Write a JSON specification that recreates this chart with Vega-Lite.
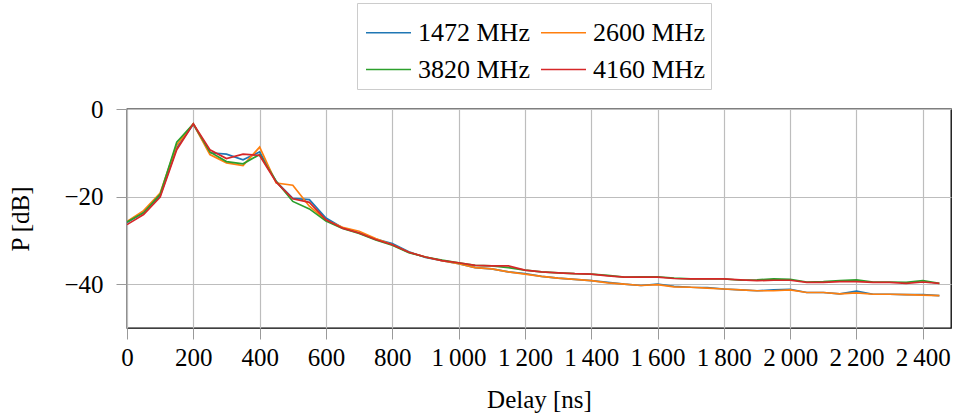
{
  "$schema": "https://vega.github.io/schema/vega-lite/v6.json",
  "width": 824,
  "height": 219,
  "autosize": {"type": "none"},
  "padding": {"left": 127, "top": 109, "right": 8, "bottom": 92},
  "background": "white",
  "config": {
    "view": {"stroke": "#000000", "strokeWidth": 1.3},
    "font": "Liberation Serif",
    "legend": {"labelFont": "Liberation Serif", "titleFont": "Liberation Serif"},
    "axis": {
      "domain": false,
      "grid": true,
      "gridColor": "#bdbdbd",
      "gridWidth": 1.2,
      "tickColor": "#9a9a9a",
      "tickSize": 11,
      "tickWidth": 1,
      "labelFont": "Liberation Serif",
      "labelFontSize": 25,
      "labelColor": "#000000",
      "titleFont": "Liberation Serif",
      "titleFontSize": 25,
      "titleFontWeight": "normal",
      "titleColor": "#000000"
    }
  },
  "data": {
    "values": [
      {"d":0,"f":"1472 MHz","p":-25.9},{"d":0,"f":"2600 MHz","p":-25.7},{"d":0,"f":"3820 MHz","p":-25.8},{"d":0,"f":"4160 MHz","p":-26.4},
      {"d":50,"f":"1472 MHz","p":-23.6},{"d":50,"f":"2600 MHz","p":-23.2},{"d":50,"f":"3820 MHz","p":-23.7},{"d":50,"f":"4160 MHz","p":-24.1},
      {"d":100,"f":"1472 MHz","p":-19.8},{"d":100,"f":"2600 MHz","p":-19.2},{"d":100,"f":"3820 MHz","p":-19.5},{"d":100,"f":"4160 MHz","p":-20.1},
      {"d":150,"f":"1472 MHz","p":-8.9},{"d":150,"f":"2600 MHz","p":-8.2},{"d":150,"f":"3820 MHz","p":-7.6},{"d":150,"f":"4160 MHz","p":-9.3},
      {"d":200,"f":"1472 MHz","p":-3.5},{"d":200,"f":"2600 MHz","p":-3.4},{"d":200,"f":"3820 MHz","p":-3.4},{"d":200,"f":"4160 MHz","p":-3.4},
      {"d":250,"f":"1472 MHz","p":-10.0},{"d":250,"f":"2600 MHz","p":-10.4},{"d":250,"f":"3820 MHz","p":-9.8},{"d":250,"f":"4160 MHz","p":-9.3},
      {"d":300,"f":"1472 MHz","p":-10.3},{"d":300,"f":"2600 MHz","p":-12.3},{"d":300,"f":"3820 MHz","p":-12.0},{"d":300,"f":"4160 MHz","p":-11.3},
      {"d":350,"f":"1472 MHz","p":-11.6},{"d":350,"f":"2600 MHz","p":-12.9},{"d":350,"f":"3820 MHz","p":-12.5},{"d":350,"f":"4160 MHz","p":-10.3},
      {"d":400,"f":"1472 MHz","p":-9.8},{"d":400,"f":"2600 MHz","p":-8.7},{"d":400,"f":"3820 MHz","p":-10.4},{"d":400,"f":"4160 MHz","p":-10.6},
      {"d":450,"f":"1472 MHz","p":-16.6},{"d":450,"f":"2600 MHz","p":-16.9},{"d":450,"f":"3820 MHz","p":-16.5},{"d":450,"f":"4160 MHz","p":-16.7},
      {"d":500,"f":"1472 MHz","p":-20.4},{"d":500,"f":"2600 MHz","p":-17.4},{"d":500,"f":"3820 MHz","p":-21.1},{"d":500,"f":"4160 MHz","p":-20.5},
      {"d":550,"f":"1472 MHz","p":-20.7},{"d":550,"f":"2600 MHz","p":-22.2},{"d":550,"f":"3820 MHz","p":-22.8},{"d":550,"f":"4160 MHz","p":-21.3},
      {"d":600,"f":"1472 MHz","p":-24.9},{"d":600,"f":"2600 MHz","p":-25.4},{"d":600,"f":"3820 MHz","p":-25.6},{"d":600,"f":"4160 MHz","p":-25.3},
      {"d":650,"f":"1472 MHz","p":-27.1},{"d":650,"f":"2600 MHz","p":-27.0},{"d":650,"f":"3820 MHz","p":-27.3},{"d":650,"f":"4160 MHz","p":-27.2},
      {"d":700,"f":"1472 MHz","p":-28.3},{"d":700,"f":"2600 MHz","p":-27.9},{"d":700,"f":"3820 MHz","p":-28.4},{"d":700,"f":"4160 MHz","p":-28.3},
      {"d":750,"f":"1472 MHz","p":-29.7},{"d":750,"f":"2600 MHz","p":-29.6},{"d":750,"f":"3820 MHz","p":-29.9},{"d":750,"f":"4160 MHz","p":-29.8},
      {"d":800,"f":"1472 MHz","p":-30.7},{"d":800,"f":"2600 MHz","p":-31.0},{"d":800,"f":"3820 MHz","p":-31.1},{"d":800,"f":"4160 MHz","p":-31.0},
      {"d":850,"f":"1472 MHz","p":-32.6},{"d":850,"f":"2600 MHz","p":-32.7},{"d":850,"f":"3820 MHz","p":-32.8},{"d":850,"f":"4160 MHz","p":-32.7},
      {"d":900,"f":"1472 MHz","p":-33.9},{"d":900,"f":"2600 MHz","p":-33.8},{"d":900,"f":"3820 MHz","p":-33.8},{"d":900,"f":"4160 MHz","p":-33.8},
      {"d":950,"f":"1472 MHz","p":-34.6},{"d":950,"f":"2600 MHz","p":-34.6},{"d":950,"f":"3820 MHz","p":-34.5},{"d":950,"f":"4160 MHz","p":-34.6},
      {"d":1000,"f":"1472 MHz","p":-35.3},{"d":1000,"f":"2600 MHz","p":-35.3},{"d":1000,"f":"3820 MHz","p":-35.1},{"d":1000,"f":"4160 MHz","p":-35.1},
      {"d":1050,"f":"1472 MHz","p":-36.2},{"d":1050,"f":"2600 MHz","p":-36.2},{"d":1050,"f":"3820 MHz","p":-35.7},{"d":1050,"f":"4160 MHz","p":-35.7},
      {"d":1100,"f":"1472 MHz","p":-36.5},{"d":1100,"f":"2600 MHz","p":-36.5},{"d":1100,"f":"3820 MHz","p":-35.8},{"d":1100,"f":"4160 MHz","p":-35.8},
      {"d":1150,"f":"1472 MHz","p":-37.2},{"d":1150,"f":"2600 MHz","p":-37.2},{"d":1150,"f":"3820 MHz","p":-36.2},{"d":1150,"f":"4160 MHz","p":-35.8},
      {"d":1200,"f":"1472 MHz","p":-37.6},{"d":1200,"f":"2600 MHz","p":-37.7},{"d":1200,"f":"3820 MHz","p":-36.8},{"d":1200,"f":"4160 MHz","p":-36.8},
      {"d":1250,"f":"1472 MHz","p":-38.2},{"d":1250,"f":"2600 MHz","p":-38.2},{"d":1250,"f":"3820 MHz","p":-37.2},{"d":1250,"f":"4160 MHz","p":-37.2},
      {"d":1300,"f":"1472 MHz","p":-38.6},{"d":1300,"f":"2600 MHz","p":-38.6},{"d":1300,"f":"3820 MHz","p":-37.4},{"d":1300,"f":"4160 MHz","p":-37.4},
      {"d":1350,"f":"1472 MHz","p":-38.9},{"d":1350,"f":"2600 MHz","p":-38.9},{"d":1350,"f":"3820 MHz","p":-37.6},{"d":1350,"f":"4160 MHz","p":-37.6},
      {"d":1400,"f":"1472 MHz","p":-39.2},{"d":1400,"f":"2600 MHz","p":-39.2},{"d":1400,"f":"3820 MHz","p":-37.7},{"d":1400,"f":"4160 MHz","p":-37.7},
      {"d":1450,"f":"1472 MHz","p":-39.6},{"d":1450,"f":"2600 MHz","p":-39.7},{"d":1450,"f":"3820 MHz","p":-38.0},{"d":1450,"f":"4160 MHz","p":-38.1},
      {"d":1500,"f":"1472 MHz","p":-40.0},{"d":1500,"f":"2600 MHz","p":-40.0},{"d":1500,"f":"3820 MHz","p":-38.4},{"d":1500,"f":"4160 MHz","p":-38.4},
      {"d":1550,"f":"1472 MHz","p":-40.3},{"d":1550,"f":"2600 MHz","p":-40.3},{"d":1550,"f":"3820 MHz","p":-38.3},{"d":1550,"f":"4160 MHz","p":-38.4},
      {"d":1600,"f":"1472 MHz","p":-40.0},{"d":1600,"f":"2600 MHz","p":-40.1},{"d":1600,"f":"3820 MHz","p":-38.3},{"d":1600,"f":"4160 MHz","p":-38.4},
      {"d":1650,"f":"1472 MHz","p":-40.5},{"d":1650,"f":"2600 MHz","p":-40.6},{"d":1650,"f":"3820 MHz","p":-38.6},{"d":1650,"f":"4160 MHz","p":-38.7},
      {"d":1700,"f":"1472 MHz","p":-40.7},{"d":1700,"f":"2600 MHz","p":-40.7},{"d":1700,"f":"3820 MHz","p":-38.8},{"d":1700,"f":"4160 MHz","p":-38.8},
      {"d":1750,"f":"1472 MHz","p":-40.8},{"d":1750,"f":"2600 MHz","p":-40.9},{"d":1750,"f":"3820 MHz","p":-38.8},{"d":1750,"f":"4160 MHz","p":-38.8},
      {"d":1800,"f":"1472 MHz","p":-41.1},{"d":1800,"f":"2600 MHz","p":-41.1},{"d":1800,"f":"3820 MHz","p":-38.8},{"d":1800,"f":"4160 MHz","p":-38.8},
      {"d":1850,"f":"1472 MHz","p":-41.3},{"d":1850,"f":"2600 MHz","p":-41.3},{"d":1850,"f":"3820 MHz","p":-39.1},{"d":1850,"f":"4160 MHz","p":-39.0},
      {"d":1900,"f":"1472 MHz","p":-41.5},{"d":1900,"f":"2600 MHz","p":-41.5},{"d":1900,"f":"3820 MHz","p":-39.0},{"d":1900,"f":"4160 MHz","p":-39.2},
      {"d":1950,"f":"1472 MHz","p":-41.3},{"d":1950,"f":"2600 MHz","p":-41.5},{"d":1950,"f":"3820 MHz","p":-38.8},{"d":1950,"f":"4160 MHz","p":-39.1},
      {"d":2000,"f":"1472 MHz","p":-41.2},{"d":2000,"f":"2600 MHz","p":-41.3},{"d":2000,"f":"3820 MHz","p":-38.9},{"d":2000,"f":"4160 MHz","p":-39.1},
      {"d":2050,"f":"1472 MHz","p":-41.9},{"d":2050,"f":"2600 MHz","p":-41.9},{"d":2050,"f":"3820 MHz","p":-39.5},{"d":2050,"f":"4160 MHz","p":-39.6},
      {"d":2100,"f":"1472 MHz","p":-41.9},{"d":2100,"f":"2600 MHz","p":-41.9},{"d":2100,"f":"3820 MHz","p":-39.4},{"d":2100,"f":"4160 MHz","p":-39.6},
      {"d":2150,"f":"1472 MHz","p":-42.2},{"d":2150,"f":"2600 MHz","p":-42.2},{"d":2150,"f":"3820 MHz","p":-39.2},{"d":2150,"f":"4160 MHz","p":-39.4},
      {"d":2200,"f":"1472 MHz","p":-41.6},{"d":2200,"f":"2600 MHz","p":-42.0},{"d":2200,"f":"3820 MHz","p":-39.0},{"d":2200,"f":"4160 MHz","p":-39.4},
      {"d":2250,"f":"1472 MHz","p":-42.3},{"d":2250,"f":"2600 MHz","p":-42.3},{"d":2250,"f":"3820 MHz","p":-39.5},{"d":2250,"f":"4160 MHz","p":-39.6},
      {"d":2300,"f":"1472 MHz","p":-42.3},{"d":2300,"f":"2600 MHz","p":-42.3},{"d":2300,"f":"3820 MHz","p":-39.5},{"d":2300,"f":"4160 MHz","p":-39.6},
      {"d":2350,"f":"1472 MHz","p":-42.4},{"d":2350,"f":"2600 MHz","p":-42.4},{"d":2350,"f":"3820 MHz","p":-39.6},{"d":2350,"f":"4160 MHz","p":-39.8},
      {"d":2400,"f":"1472 MHz","p":-42.4},{"d":2400,"f":"2600 MHz","p":-42.5},{"d":2400,"f":"3820 MHz","p":-39.2},{"d":2400,"f":"4160 MHz","p":-39.5},
      {"d":2450,"f":"1472 MHz","p":-42.6},{"d":2450,"f":"2600 MHz","p":-42.6},{"d":2450,"f":"3820 MHz","p":-39.8},{"d":2450,"f":"4160 MHz","p":-39.8}
    ]
  },
  "mark": {"type": "line", "strokeWidth": 1.7, "clip": true},
  "encoding": {
    "x": {
      "field": "d",
      "type": "quantitative",
      "scale": {"domain": [0, 2485], "nice": false, "zero": false},
      "axis": {
        "title": "Delay [ns]",
        "values": [0, 200, 400, 600, 800, 1000, 1200, 1400, 1600, 1800, 2000, 2200, 2400],
        "labelExpr": "replace(format(datum.value, ','), ',', '\u2009')",
        "labelFont": "Liberation Serif",
        "titleFont": "Liberation Serif",
        "labelBaseline": "alphabetic",
        "labelPadding": 26,
        "labelFlush": false,
        "labelOverlap": false,
        "titleBaseline": "alphabetic",
        "titleY": 79
      }
    },
    "y": {
      "field": "p",
      "type": "quantitative",
      "scale": {"domain": [-50, 0], "nice": false, "zero": false},
      "axis": {
        "title": "P [dB]",
        "values": [0, -20, -40],
        "labelFont": "Liberation Serif",
        "titleFont": "Liberation Serif",
        "labelPadding": 13,
        "labelFlush": false,
        "titleBaseline": "bottom",
        "titleX": -94
      }
    },
    "color": {
      "field": "f",
      "type": "nominal",
      "scale": {
        "domain": ["1472 MHz", "2600 MHz", "3820 MHz", "4160 MHz"],
        "range": ["#1f77b4", "#ff7f0e", "#2ca02c", "#d62728"]
      },
      "legend": {
        "title": null,
        "orient": "none",
        "legendX": 230,
        "legendY": -106,
        "columns": 2,
        "direction": "horizontal",
        "symbolType": "stroke",
        "symbolSize": 2025,
        "symbolStrokeWidth": 1.5,
        "symbolOffset": 2,
        "labelFont": "Liberation Serif",
        "labelFontSize": 26,
        "labelColor": "#000000",
        "labelOffset": 6,
        "columnPadding": 8,
        "rowPadding": -3,
        "padding": 6,
        "strokeColor": "#cccccc",
        "fillColor": "white"
      }
    }
  }
}
